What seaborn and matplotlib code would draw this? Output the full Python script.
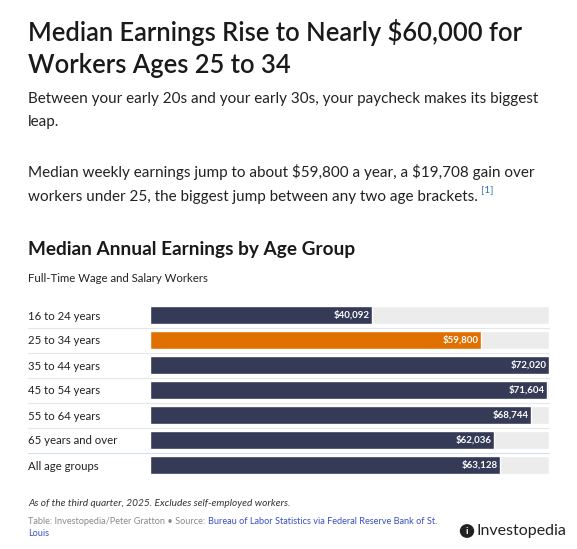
import matplotlib
matplotlib.use("Agg")
import matplotlib.pyplot as plt
import seaborn as sns
import pandas as pd

categories = ["16 to 24 years", "25 to 34 years", "35 to 44 years", "45 to 54 years",
              "55 to 64 years", "65 years and over", "All age groups"]
earnings = [40092, 59800, 72020, 71604, 68744, 62036, 63128]
value_labels = ["$40,092", "$59,800", "$72,020", "$71,604", "$68,744", "$62,036", "$63,128"]
highlight = "25 to 34 years"

NAVY = "#353a57"
ORANGE = "#e07000"
TRACK = "#ececec"
TXT = "#222222"

sns.set_theme(style="white")
plt.rcParams["font.family"] = ["Lato", "DejaVu Sans"]
plt.rcParams["text.parse_math"] = False

W, H = 577, 549
fig = plt.figure(figsize=(W / 100, H / 100), dpi=100)

def fx(x):
    return x / W

def fy(y):
    return 1 - y / H

df = pd.DataFrame({"group": categories, "earnings": earnings})
palette = {c: (ORANGE if c == highlight else NAVY) for c in categories}
xmax = max(earnings)

ax = fig.add_axes([fx(150), fy(477.5), fx(549) - fx(150), (477.5 - 302.5) / H])
sns.barplot(data=df.assign(track=xmax), x="track", y="group", color=TRACK,
            width=0.72, ax=ax, orient="h", saturation=1)
sns.barplot(data=df, x="earnings", y="group", hue="group", palette=palette,
            width=0.72, ax=ax, orient="h", saturation=1, legend=False)
ax.set_xlim(0, xmax)
ax.set_ylim(6.5, -0.5)
ax.axis("off")
for i, (v, lab) in enumerate(zip(earnings, value_labels)):
    ax.text(v - xmax * 0.006, i, lab, ha="right", va="center", color="white",
            fontsize=7, fontweight="bold")

for i, c in enumerate(categories):
    yc = 315 + 25 * i
    fig.text(fx(28), fy(yc + 1), c, ha="left", va="center", fontsize=8.2, color=TXT)
    if i < len(categories) - 1:
        col = "#cfe0f5" if i == len(categories) - 2 else "#e6e6e6"
        fig.add_artist(plt.Line2D([fx(28), fx(549)], [fy(yc + 12.5)] * 2,
                                  color=col, lw=0.8))

fig.text(fx(28), fy(33), "Median Earnings Rise to Nearly $60,000 for", fontsize=18.4,
         fontweight="semibold", color="#1a1a1a", va="center")
fig.text(fx(28), fy(65), "Workers Ages 25 to 34", fontsize=18.4,
         fontweight="semibold", color="#1a1a1a", va="center")
BODY = 11
fig.text(fx(28), fy(99), "Between your early 20s and your early 30s, your paycheck makes its biggest",
         fontsize=BODY, color=TXT, va="center")
fig.text(fx(28), fy(122), "leap.", fontsize=BODY, color=TXT, va="center")
fig.text(fx(28), fy(172), "Median weekly earnings jump to about $59,800 a year, a $19,708 gain over",
         fontsize=BODY, color=TXT, va="center")
p2 = fig.text(fx(28), fy(197), "workers under 25, the biggest jump between any two age brackets.",
              fontsize=BODY, color=TXT, va="center")

fig.text(fx(28), fy(249), "Median Annual Earnings by Age Group", fontsize=13.7,
         fontweight="bold", color="#1a1a1a", va="center")
fig.text(fx(28), fy(278), "Full-Time Wage and Salary Workers", fontsize=8.2,
         color=TXT, va="center")

fig.text(fx(28), fy(503), "As of the third quarter, 2025. Excludes self-employed workers.",
         fontsize=7.3, style="italic", color="#333333", va="center")
SRC = 6.6
t1 = fig.text(fx(28), fy(521), "Table: Investopedia/Peter Gratton \u2022 Source: ",
              fontsize=SRC, color="#8a8a8a", va="center")
fig.text(fx(28), fy(534), "Louis", fontsize=SRC, color="#3b4fc4", va="center")

fig.canvas.draw()
r = fig.canvas.get_renderer()
bb1 = t1.get_window_extent(r)
fig.text(bb1.x1 / W + fx(1), fy(521), "Bureau of Labor Statistics via Federal Reserve Bank of St.",
         fontsize=SRC, color="#3b4fc4", va="center")
bb2 = p2.get_window_extent(r)
fig.text(bb2.x1 / W + fx(3), fy(190), "[1]", fontsize=7.5, color="#2a6ebb", va="center")

fig.add_artist(plt.Circle((fx(467), fy(531)), 6.5 / W, transform=fig.transFigure,
                          color="#222222"))
fig.text(fx(467), fy(531), "i", fontsize=7, fontweight="bold", color="white",
         ha="center", va="center")
fig.text(fx(476), fy(531), "Investopedia", fontsize=11.5, color="#222222", va="center")

fig.savefig("out.png", dpi=100, facecolor="white")
